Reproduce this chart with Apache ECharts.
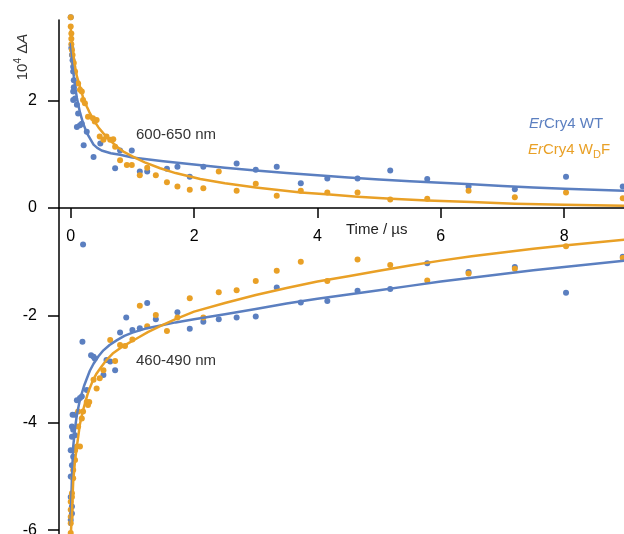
<!DOCTYPE html>
<html>
<head>
<meta charset="utf-8">
<script src="https://cdn.jsdelivr.net/npm/echarts@6/dist/echarts.min.js"></script>
<style>
  html, body { margin: 0; padding: 0; background: #fff; }
  #chart { width: 624px; height: 534px; }
</style>
</head>
<body>
<div id="chart"></div>
<script>
// Transient absorption kinetics, ErCry4 WT vs W->F mutant
const xTicks = [0, 2, 4, 6, 8];
const yTicksUpper = [2];
const yTicksLower = [-6, -4, -2, 0];

// 600-650 nm, WT
const wtRedT = [0.00, 0.01, 0.02, 0.03, 0.04, 0.04, 0.05, 0.05, 0.04, 0.04, 0.07, 0.10, 0.12, 0.10, 0.15, 0.18, 0.26, 0.21, 0.37, 0.48, 0.72, 0.80, 0.99, 1.12, 1.24, 1.56, 1.73, 1.93, 2.15, 2.69, 3.00, 3.34, 3.73, 4.16, 4.65, 5.18, 5.78, 6.45, 7.20, 8.03, 8.95];
const wtRedA = [3.55, 2.98, 2.85, 2.75, 2.63, 2.54, 2.38, 2.25, 2.17, 2.01, 2.04, 1.92, 1.76, 1.51, 1.54, 1.57, 1.42, 1.17, 0.95, 1.20, 0.74, 1.07, 1.07, 0.68, 0.68, 0.73, 0.77, 0.58, 0.77, 0.83, 0.71, 0.77, 0.46, 0.55, 0.55, 0.70, 0.54, 0.40, 0.35, 0.58, 0.40];

// 600-650 nm, WDF
const wdfRedT = [0.00, 0.00, 0.01, 0.01, 0.01, 0.02, 0.03, 0.05, 0.07, 0.12, 0.15, 0.18, 0.20, 0.23, 0.28, 0.36, 0.39, 0.42, 0.47, 0.53, 0.58, 0.64, 0.69, 0.72, 0.80, 0.91, 0.99, 1.12, 1.24, 1.38, 1.56, 1.73, 1.93, 2.15, 2.40, 2.69, 3.00, 3.34, 3.73, 4.16, 4.65, 5.18, 5.78, 6.45, 7.20, 8.03, 8.95];
const wdfRedA = [3.55, 3.38, 3.25, 3.15, 3.05, 2.94, 2.85, 2.70, 2.54, 2.32, 2.20, 2.17, 2.01, 1.95, 1.70, 1.67, 1.61, 1.64, 1.33, 1.27, 1.33, 1.27, 1.28, 1.14, 0.89, 0.80, 0.80, 0.61, 0.75, 0.61, 0.48, 0.40, 0.34, 0.37, 0.68, 0.32, 0.45, 0.23, 0.32, 0.29, 0.29, 0.16, 0.17, 0.32, 0.20, 0.29, 0.18];

// 460-490 nm, WT
const wtBlueT = [0.00, 0.02, 0.02, 0.00, 0.00, 0.02, 0.04, 0.00, 0.02, 0.07, 0.04, 0.02, 0.03, 0.07, 0.10, 0.15, 0.18, 0.26, 0.20, 0.19, 0.33, 0.37, 0.39, 0.53, 0.58, 0.64, 0.72, 0.80, 0.90, 1.00, 1.12, 1.24, 1.38, 1.73, 1.93, 2.15, 2.40, 2.69, 3.00, 3.34, 3.73, 4.16, 4.65, 5.18, 5.78, 6.45, 7.20, 8.03, 8.95];
const wtBlueA = [-5.81, -5.69, -5.56, -5.38, -5.00, -4.79, -4.63, -4.51, -4.26, -4.23, -4.13, -4.07, -3.85, -3.85, -3.58, -3.54, -3.51, -3.39, -0.68, -2.49, -2.74, -2.77, -2.80, -3.11, -2.83, -2.86, -3.02, -2.32, -2.04, -2.27, -2.24, -1.77, -2.07, -1.94, -2.25, -2.12, -2.07, -2.04, -2.02, -1.48, -1.76, -1.73, -1.54, -1.51, -1.03, -1.19, -1.10, -1.58, -0.91];

// 460-490 nm, WDF
const wdfBlueT = [0.00, 0.00, 0.00, 0.00, 0.00, 0.02, 0.02, 0.04, 0.04, 0.07, 0.07, 0.10, 0.15, 0.12, 0.18, 0.12, 0.20, 0.28, 0.26, 0.30, 0.37, 0.42, 0.47, 0.53, 0.64, 0.72, 0.80, 0.88, 1.00, 1.12, 1.24, 1.38, 1.56, 1.73, 1.93, 2.15, 2.40, 2.69, 3.00, 3.34, 3.73, 4.16, 4.65, 5.18, 5.78, 6.45, 7.20, 8.03, 8.95];
const wdfBlueA = [-6.05, -5.87, -5.75, -5.62, -5.47, -5.38, -5.31, -5.03, -4.88, -4.69, -4.51, -4.44, -4.44, -4.07, -3.92, -3.79, -3.79, -3.67, -3.61, -3.61, -3.20, -3.36, -3.17, -3.02, -2.46, -2.85, -2.55, -2.57, -2.45, -1.82, -2.20, -1.99, -2.29, -2.04, -1.68, -2.04, -1.57, -1.53, -1.36, -1.17, -1.00, -1.36, -0.96, -1.06, -1.35, -1.22, -1.13, -0.71, -0.93];

// fitted kinetics
const fitWtRedT = [0.00, 0.01, 0.02, 0.03, 0.05, 0.07, 0.10, 0.15, 0.20, 0.26, 0.30, 0.37, 0.43, 0.50, 0.65, 0.80, 1.00, 1.50, 2.00, 2.50, 3.00, 3.50, 4.00, 4.50, 5.00, 5.50, 6.00, 6.50, 7.00, 7.50, 8.00, 8.97];
const fitWtRedA = [3.05, 2.95, 2.82, 2.68, 2.45, 2.27, 2.05, 1.78, 1.58, 1.40, 1.32, 1.18, 1.12, 1.07, 1.02, 0.99, 0.94, 0.87, 0.81, 0.75, 0.70, 0.65, 0.61, 0.57, 0.53, 0.50, 0.47, 0.44, 0.41, 0.38, 0.36, 0.32];
const fitWdfRedT = [0.00, 0.02, 0.04, 0.07, 0.10, 0.15, 0.20, 0.26, 0.30, 0.37, 0.45, 0.53, 0.62, 0.75, 0.87, 1.00, 1.20, 1.45, 1.70, 2.10, 2.50, 3.00, 3.73, 4.20, 4.65, 5.20, 5.78, 6.50, 7.20, 8.00, 8.97];
const fitWdfRedA = [3.35, 3.10, 2.88, 2.63, 2.45, 2.26, 2.06, 1.89, 1.79, 1.64, 1.50, 1.39, 1.28, 1.14, 1.04, 0.96, 0.85, 0.74, 0.65, 0.54, 0.46, 0.38, 0.29, 0.25, 0.21, 0.17, 0.14, 0.11, 0.08, 0.06, 0.04];
const fitWtBlueT = [0.00, 0.01, 0.02, 0.04, 0.07, 0.10, 0.14, 0.18, 0.22, 0.26, 0.31, 0.37, 0.45, 0.53, 0.63, 0.75, 0.87, 1.00, 1.20, 1.40, 1.70, 2.00, 2.50, 3.00, 3.50, 4.00, 4.50, 5.00, 5.50, 6.00, 6.50, 7.00, 7.50, 8.00, 8.97];
const fitWtBlueA = [-5.90, -5.40, -5.00, -4.45, -4.10, -3.85, -3.62, -3.45, -3.30, -3.18, -3.03, -2.90, -2.76, -2.65, -2.55, -2.46, -2.38, -2.32, -2.25, -2.20, -2.13, -2.07, -1.98, -1.88, -1.78, -1.69, -1.61, -1.53, -1.45, -1.37, -1.30, -1.23, -1.16, -1.10, -0.98];
const fitWdfBlueT = [0.00, 0.01, 0.02, 0.03, 0.04, 0.07, 0.10, 0.15, 0.19, 0.23, 0.27, 0.31, 0.36, 0.42, 0.50, 0.58, 0.68, 0.80, 0.93, 1.07, 1.25, 1.45, 1.70, 2.00, 2.50, 3.00, 3.50, 4.00, 4.50, 5.00, 5.50, 6.00, 6.50, 7.00, 7.50, 8.00, 8.97];
const fitWdfBlueA = [-6.10, -5.90, -5.69, -5.38, -5.10, -4.70, -4.44, -4.02, -3.81, -3.64, -3.48, -3.35, -3.21, -3.08, -2.95, -2.83, -2.71, -2.61, -2.52, -2.43, -2.31, -2.20, -2.07, -1.93, -1.77, -1.62, -1.49, -1.37, -1.27, -1.17, -1.07, -0.98, -0.90, -0.83, -0.76, -0.70, -0.59];

const BLUE = '#5b7fc0';
const ORANGE = '#e9a026';
const FONT = '"Liberation Sans", Arial, sans-serif';

const pairs = (t, a) => t.map((x, i) => [x, a[i]]);

function dots(t, a, color, idx) {
  return {
    type: 'scatter', data: pairs(t, a), symbol: 'circle', symbolSize: 6,
    xAxisIndex: idx, yAxisIndex: idx,
    itemStyle: { color: color, opacity: 1 }, clip: false, silent: true,
    emphasis: { disabled: true }
  };
}
function fit(t, a, color, idx) {
  return {
    type: 'line', data: pairs(t, a), showSymbol: false, smooth: false,
    xAxisIndex: idx, yAxisIndex: idx,
    lineStyle: { color: color, width: 2.5, join: 'round', cap: 'round' },
    silent: true, emphasis: { disabled: true }, z: 3
  };
}

const axisLineStyle = { color: '#000', width: 1.5 };
const tickFont = { color: '#000', fontSize: 16, fontFamily: FONT };

const chart = echarts.init(document.getElementById('chart'), null, { renderer: 'canvas' });
chart.setOption({
  animation: false,
  backgroundColor: '#fff',
  // upper band (positive signal) and lower band (negative signal) share one time scale
  grid: [
    { left: 59, right: 0, top: 20, height: 188, containLabel: false, outerBoundsMode: 'none' },
    { left: 59, right: 0, top: 208, bottom: 0, containLabel: false, outerBoundsMode: 'none' }
  ],
  xAxis: [
    {
      type: 'value', gridIndex: 0, min: -0.19, max: 8.97, position: 'bottom',
      axisLine: { onZero: false, lineStyle: axisLineStyle },
      axisTick: { show: true, length: 10, inside: false, customValues: xTicks, lineStyle: axisLineStyle },
      axisLabel: Object.assign({ customValues: xTicks, margin: 21 }, tickFont),
      splitLine: { show: false }
    },
    {
      type: 'value', gridIndex: 1, min: -0.19, max: 8.97, show: false,
      splitLine: { show: false }
    }
  ],
  yAxis: [
    {
      type: 'value', gridIndex: 0, min: 0, max: 3.5,
      axisLine: { show: true, onZero: false, lineStyle: axisLineStyle },
      axisTick: { show: true, length: 11, inside: false, customValues: yTicksUpper, lineStyle: axisLineStyle },
      axisLabel: Object.assign({ customValues: yTicksUpper, margin: 22 }, tickFont),
      splitLine: { show: false }
    },
    {
      type: 'value', gridIndex: 1, min: -6.07, max: 0,
      axisLine: { show: true, onZero: false, lineStyle: axisLineStyle },
      axisTick: { show: true, length: 11, inside: false, customValues: yTicksLower, lineStyle: axisLineStyle },
      axisLabel: Object.assign({ customValues: yTicksLower, margin: 22 }, tickFont),
      splitLine: { show: false }
    }
  ],
  series: [
    dots(wtRedT, wtRedA, BLUE, 0),
    dots(wdfRedT, wdfRedA, ORANGE, 0),
    dots(wtBlueT, wtBlueA, BLUE, 1),
    dots(wdfBlueT, wdfBlueA, ORANGE, 1),
    fit(fitWtRedT, fitWtRedA, BLUE, 0),
    fit(fitWdfRedT, fitWdfRedA, ORANGE, 0),
    fit(fitWtBlueT, fitWtBlueA, BLUE, 1),
    fit(fitWdfBlueT, fitWdfBlueA, ORANGE, 1)
  ],
  graphic: [
    {
      type: 'text', x: 23, y: 57, rotation: Math.PI / 2,
      style: {
        text: '{n|10}{s|4}{n| Δ}{i|A}', align: 'center', verticalAlign: 'middle',
        fill: '#333',
        rich: {
          n: { fontSize: 15, fontFamily: FONT, fill: '#333', lineHeight: 20 },
          i: { fontSize: 15, fontFamily: FONT, fontStyle: 'italic', fill: '#333', lineHeight: 20 },
          s: { fontSize: 10, fontFamily: FONT, fill: '#333', padding: [0, 0, 9, 0] }
        }
      }
    },
    {
      type: 'text', x: 346, y: 230,
      style: { text: 'Time / µs', font: '15px ' + FONT, fill: '#222', verticalAlign: 'middle' }
    },
    {
      type: 'text', x: 136, y: 135,
      style: { text: '600-650 nm', font: '15px ' + FONT, fill: '#333', verticalAlign: 'middle' }
    },
    {
      type: 'text', x: 136, y: 361,
      style: { text: '460-490 nm', font: '15px ' + FONT, fill: '#333', verticalAlign: 'middle' }
    },
    {
      type: 'text', x: 529, y: 124,
      style: {
        text: '{i|Er}{n|Cry4 WT}', verticalAlign: 'middle',
        rich: {
          i: { fontSize: 15, fontFamily: FONT, fontStyle: 'italic', fill: BLUE },
          n: { fontSize: 15, fontFamily: FONT, fill: BLUE }
        }
      }
    },
    {
      type: 'text', x: 528, y: 150,
      style: {
        text: '{i|Er}{n|Cry4 W}{d|D}{n|F}', verticalAlign: 'middle',
        rich: {
          i: { fontSize: 15, fontFamily: FONT, fontStyle: 'italic', fill: ORANGE },
          n: { fontSize: 15, fontFamily: FONT, fill: ORANGE },
          d: { fontSize: 11, fontFamily: FONT, fill: ORANGE, padding: [9, 0, 0, 0] }
        }
      }
    }
  ]
});
</script>
</body>
</html>
